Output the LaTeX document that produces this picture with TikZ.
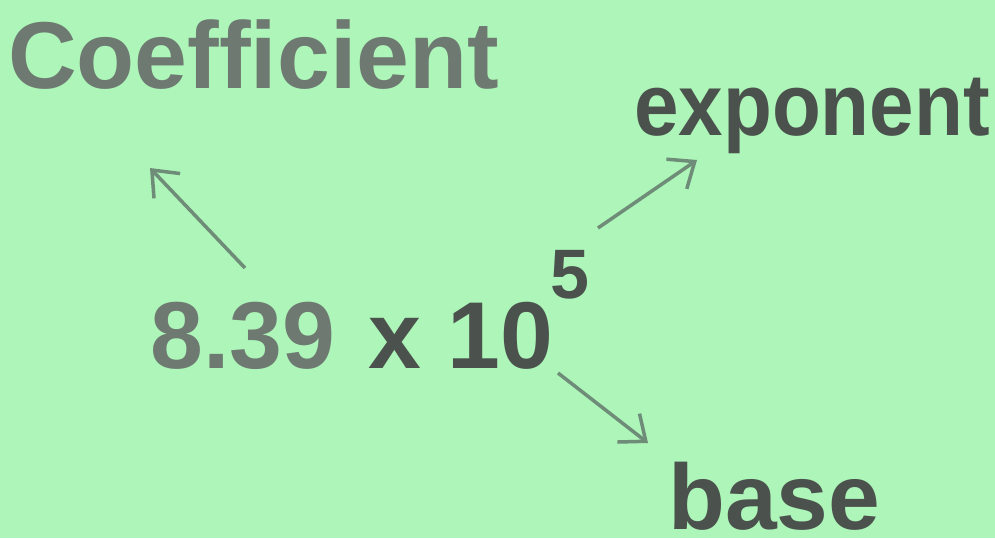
\documentclass[tikz,border=0pt]{standalone}
\usepackage{fontspec}
\setmainfont{Liberation Sans}
\usetikzlibrary{arrows.meta}
\definecolor{bg}{HTML}{ADF5B8}
\definecolor{lightink}{HTML}{6E7A71}
\definecolor{darkink}{HTML}{4B524D}
\definecolor{arrowc}{HTML}{6E8C78}
\tikzset{
  lbl/.style={inner sep=0pt, anchor=base west, font=\bfseries\fontsize{95}{100}\selectfont},
  ptr/.style={draw=arrowc, line width=3.5pt, -{Straight Barb[length=22pt, width=36pt, line width=3.5pt]}}
}
\begin{document}
\begin{tikzpicture}[x=1pt,y=-1pt]
\fill[bg] (0,0) rectangle (995,538);
\useasboundingbox (0,0) rectangle (995,538);
\node[lbl, text=lightink] (coef) at (8,88) {Coefficient};
\node[lbl, text=lightink] (num) at (150,368) {8.39};
\node[lbl, text=darkink] (times) at (368,368) {x 10};
\node[lbl, text=darkink, font=\bfseries\fontsize{70}{70}\selectfont] (sup) at (550,298) {5};
\node[lbl, text=darkink, font=\bfseries\fontsize{80}{80}\selectfont, yscale=1.1] (expo) at (634,135) {exponent};
\node[lbl, text=darkink, font=\bfseries\fontsize{93}{93}\selectfont] (base) at (668,529) {base};
\coordinate (c1) at (245,268);
\coordinate (c2) at (150,168);
\coordinate (e1) at (598,228);
\coordinate (e2) at (697,160);
\coordinate (b1) at (558,373);
\coordinate (b2) at (648,443);
\draw[ptr] (c1) -- (c2);
\draw[ptr] (e1) -- (e2);
\draw[ptr] (b1) -- (b2);
\end{tikzpicture}
\end{document}
